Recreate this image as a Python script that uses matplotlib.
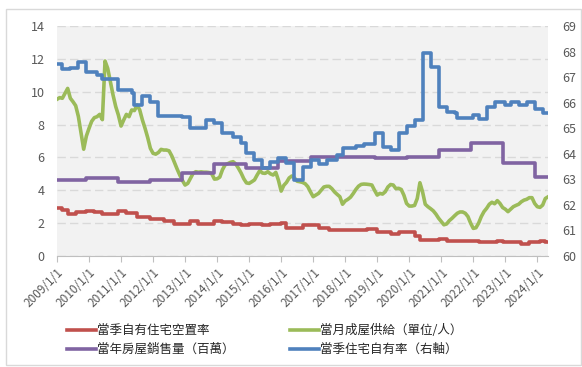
import numpy as np
import matplotlib
matplotlib.use('Agg')
import matplotlib.pyplot as plt
from matplotlib.patches import Rectangle
from matplotlib.lines import Line2D

plt.rcParams['font.family'] = ['Noto Sans CJK TC', 'DejaVu Sans']

# ---------------- data ----------------
years = list(range(2009, 2025))
tick_labels = [f"{y}/1/1" for y in years]
last_month = 184  # months since 2009/1 (Jan 2009 .. May 2024)

# monthly new home supply (months), Jan 2009 .. May 2024
supply = [
    9.54, 9.64, 9.6, 9.9, 10.2, 9.6, 9.39, 9.15, 8.5, 7.5, 6.5, 7.3,
    7.77, 8.2, 8.42, 8.48, 8.62, 8.3, 11.87, 11.42, 10.6, 9.8, 9.1, 8.58,
    7.91, 8.28, 8.62, 8.48, 8.89, 8.85, 9.19, 8.89, 8.28, 7.77, 7.2, 6.55,
    6.25, 6.2, 6.3, 6.49, 6.45, 6.45, 6.4, 6.1, 5.7, 5.3, 4.93, 4.6,
    4.32, 4.42, 4.73, 5.03, 5.13, 5.1, 5.12, 5.1, 5.1, 5.08, 5.0, 4.68,
    4.7, 4.8, 5.25, 5.55, 5.62, 5.7, 5.74, 5.6, 5.34, 5.05, 4.7, 4.45,
    4.42, 4.52, 4.63, 4.93, 5.2, 5.05, 5.03, 5.13, 5.0, 4.93, 5.09, 4.6,
    3.95, 4.3, 4.48, 4.75, 4.87, 4.75, 4.55, 4.52, 4.48, 4.4, 4.22, 3.9,
    3.61, 3.71, 3.81, 4.0, 4.2, 4.24, 4.24, 4.1, 3.9, 3.75, 3.61, 3.15,
    3.35, 3.45, 3.58, 3.8, 4.05, 4.25, 4.36, 4.38, 4.37, 4.35, 4.32, 4.0,
    3.71, 3.81, 3.77, 3.91, 4.2, 4.35, 4.32, 4.1, 4.12, 4.05, 3.7, 3.2,
    3.04, 3.04, 3.08, 3.5, 4.46, 3.9, 3.15, 3.0, 2.88, 2.75, 2.55, 2.3,
    2.1, 1.9, 1.95, 2.15, 2.29, 2.45, 2.6, 2.68, 2.68, 2.6, 2.4, 2.0,
    1.68, 1.72, 2.0, 2.4, 2.7, 2.9, 3.15, 3.27, 3.18, 3.37, 3.2, 2.95,
    2.85, 2.7, 2.85, 3.0, 3.08, 3.15, 3.3, 3.4, 3.45, 3.55, 3.55, 3.2,
    3.0, 2.96, 3.1, 3.5, 3.6,
]

# homeowner vacancy rate (%): month where each value starts
vacancy_start = [0, 2, 4, 7, 11, 14, 17, 23, 26, 30, 35, 40, 44, 50, 53, 59, 62, 66,
                 69, 72, 77, 80, 84, 86, 92, 98, 102, 116, 120, 125, 128, 134, 136,
                 143, 146, 158, 165, 167, 174, 177, 181, 183]
vacancy_val = [2.92, 2.78, 2.55, 2.66, 2.74, 2.66, 2.55, 2.74, 2.62, 2.4, 2.25, 2.13,
               1.95, 2.15, 1.95, 2.15, 2.05, 1.95, 1.87, 1.95, 1.87, 1.95, 1.99, 1.72,
               1.87, 1.70, 1.6, 1.63, 1.44, 1.32, 1.46, 1.2, 0.97, 1.03, 0.93, 0.85,
               0.93, 0.85, 0.75, 0.85, 0.92, 0.83]

# annual home sales (millions)
sales_val = [4.63, 4.73, 4.52, 4.63, 5.03, 5.58, 5.38, 5.76, 6.04, 6.04, 5.94, 6.04,
             6.45, 6.9, 5.68, 4.79]

# homeownership rate (%), right axis: month where each value starts
own_start = [0, 2, 5, 8, 11, 15, 17, 23, 28, 29, 32, 35, 38, 47, 50, 56, 59, 62, 66,
             69, 71, 74, 77, 80, 83, 86, 89, 92, 95, 98, 101, 105, 107, 112, 115, 119,
             122, 125, 128, 131, 134, 137, 140, 143, 146, 149, 150, 156, 158, 161, 164,
             168, 170, 173, 176, 179, 182]
own_val = [67.5, 67.3, 67.35, 67.6, 67.2, 67.08, 66.91, 66.49, 66.37, 65.91, 66.26,
           66.04, 65.47, 65.44, 65.0, 65.32, 65.2, 64.8, 64.67, 64.41, 64.02, 63.76,
           63.43, 63.69, 63.82, 63.63, 62.97, 63.5, 63.76, 63.6, 63.76, 63.95, 64.21,
           64.3, 64.4, 64.8, 64.28, 64.15, 64.8, 65.09, 65.32, 67.93, 67.4, 65.82,
           65.65, 65.6, 65.41, 65.5, 65.37, 65.82, 66.04, 65.9, 66.04, 65.9, 66.04,
           65.74, 65.6]

labels = ["當季自有住宅空置率", "當月成屋供給（單位/人）",
          "當年房屋銷售量（百萬）", "當季住宅自有率（右軸）"]
colors = ["#c0504d", "#9bbb59", "#8064a2", "#4f81bd"]

# ---------------- figure ----------------
W, H = 582, 367
fig = plt.figure(figsize=(W / 100, H / 100), dpi=100)
fig.patch.set_facecolor('white')
fig.add_artist(Rectangle((6 / W, 2 / H), 575 / W, (H - 11) / H, transform=fig.transFigure,
                         fill=False, edgecolor='#d9d9d9', linewidth=1.0))

ax = fig.add_axes([57 / W, 1 - 256 / H, (548 - 57) / W, (256 - 26) / H])
ax.set_facecolor('#f2f2f2')
ax2 = ax.twinx()

lw = 2.6
months = np.arange(len(supply))

def step_xy(starts, vals, end):
    x = list(starts) + [end]
    y = list(vals) + [vals[-1]]
    return x, y

vx, vy = step_xy(vacancy_start, vacancy_val, last_month)
ax.plot(vx, vy, drawstyle='steps-post', color=colors[0], lw=lw)

ax.plot(months, supply, color=colors[1], lw=lw)

sales_start = [0] + [12 * (y - years[0]) - 1 for y in years[1:]]
sx, sy = step_xy(sales_start, sales_val, last_month)
ax.plot(sx, sy, drawstyle='steps-post', color=colors[2], lw=lw)

ox, oy = step_xy(own_start, own_val, last_month)
ax2.plot(ox, oy, drawstyle='steps-post', color=colors[3], lw=lw)

ax.set_xlim(0, last_month)
ax.set_ylim(0, 14)
ax2.set_ylim(60, 69)
ax.set_yticks(np.arange(0, 15, 2))
ax2.set_yticks(np.arange(60, 70, 1))
ax.set_xticks([12 * (y - years[0]) for y in years])
ax.set_xticklabels(tick_labels, rotation=45, ha='right', rotation_mode='anchor')

ax.yaxis.grid(True, color='#d9d9d9', linestyle=(0, (6, 3)), linewidth=1.0)
ax.set_axisbelow(True)

for a in (ax, ax2):
    for s in a.spines.values():
        s.set_visible(False)
ax.spines['bottom'].set_visible(True)
ax.spines['bottom'].set_color('#bfbfbf')

ax.tick_params(axis='y', length=0, pad=9, labelsize=9, labelcolor='#595959')
ax2.tick_params(axis='y', length=0, pad=10, labelsize=9, labelcolor='#595959')
ax.tick_params(axis='x', length=4, color='#bfbfbf', pad=3, labelsize=8.5, labelcolor='#595959')

# legend: row 1 = red, green; row 2 = purple, blue (column-major order)
order = [0, 2, 1, 3]
handles = [Line2D([], [], color=colors[i], lw=lw) for i in order]
fig.legend(handles, [labels[i] for i in order], ncol=2, loc='upper left',
           bbox_to_anchor=(56 / W, 1 - 313 / H), frameon=False, fontsize=9,
           handlelength=2.3, handletextpad=0.1, columnspacing=4.4,
           labelspacing=0.45, labelcolor='#262626')

fig.savefig('out.png', dpi=100)
